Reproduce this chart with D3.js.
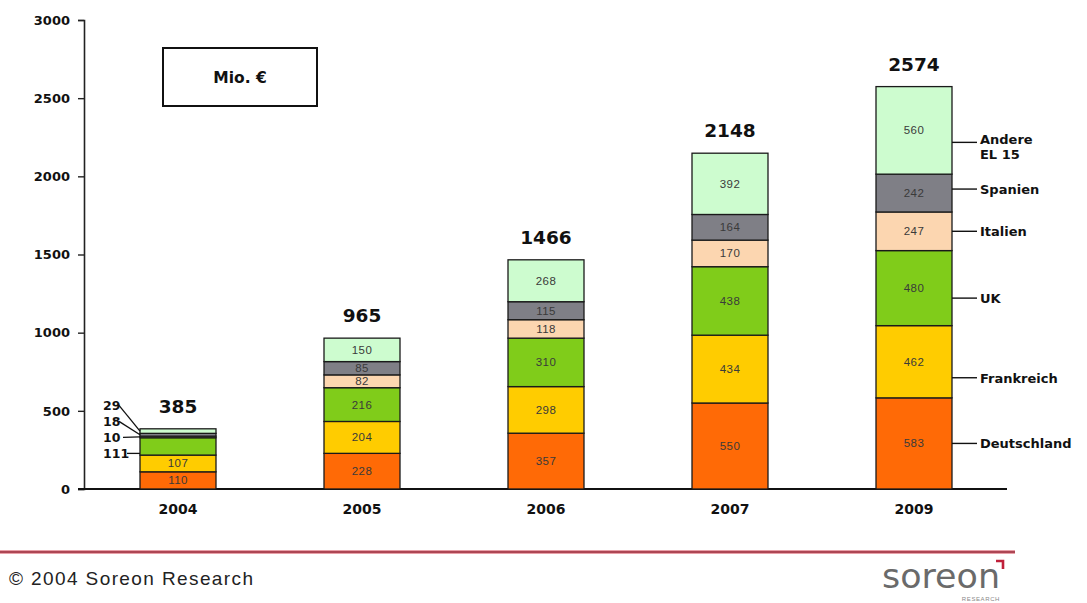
<!DOCTYPE html>
<html>
<head>
<meta charset="utf-8">
<script src="https://cdn.jsdelivr.net/npm/d3@7"></script>
<style>
  body { margin: 0; background: #fff; }
  svg { display: block; font-family: Arial, "Liberation Sans", sans-serif; }
  .bold { font-family: "DejaVu Sans", Verdana, sans-serif; font-weight: bold; fill: #111; }
</style>
</head>
<body>
<div id="main"></div>
<script>
const years = ['2004', '2005', '2006', '2007', '2009'];
const countries = ['Deutschland', 'Frankreich', 'UK', 'Italien', 'Spanien', 'Andere EL 15'];
const deutschland = [110, 228, 357, 550, 583];
const frankreich  = [107, 204, 298, 434, 462];
const uk          = [111, 216, 310, 438, 480];
const italien     = [10, 82, 118, 170, 247];
const spanien     = [18, 85, 115, 164, 242];
const andere      = [29, 150, 268, 392, 560];
const totals      = [385, 965, 1466, 2148, 2574];
const yTicks      = [0, 500, 1000, 1500, 2000, 2500, 3000];
const unitLabel   = 'Mio. €';
const footerText  = '© 2004 Soreon Research';

const colors = ['#ff6a06', '#ffcc00', '#80cc1a', '#fcd6b0', '#7f7f86', '#cdfccf'];

document.addEventListener('DOMContentLoaded', () => {
  const width = 1087, height = 603;
  const svg = d3.select('#main').append('svg')
    .attr('width', width).attr('height', height)
    .attr('viewBox', [0, 0, width, height]);

  const series = [deutschland, frankreich, uk, italien, spanien, andere];
  const rows = years.map((y, i) => {
    const r = { year: y };
    countries.forEach((c, k) => r[c] = series[k][i]);
    return r;
  });
  const stacked = d3.stack().keys(countries)(rows);

  const x = d3.scaleBand().domain(years).range([86, 1006])
    .paddingInner(0.587).paddingOuter(0.2935);
  const y = d3.scaleLinear().domain([0, 3000]).range([489, 20]);

  // y axis
  const gy = svg.append('g').attr('transform', 'translate(84,0)')
    .call(d3.axisLeft(y).tickValues(yTicks).tickFormat(d3.format('d')).tickSize(6).tickPadding(8));
  gy.select('.domain').attr('stroke', '#222').attr('stroke-width', 1.6);
  gy.selectAll('.tick line').attr('stroke', '#222').attr('stroke-width', 1.4);
  gy.selectAll('.tick text').attr('class', 'bold').attr('font-size', 13).attr('font-family', null);

  // x axis
  const gx = svg.append('g').attr('transform', 'translate(0,489)')
    .call(d3.axisBottom(x).tickSize(0).tickPadding(15));
  gx.select('.domain').attr('d', 'M78,0H1007').attr('stroke', '#111').attr('stroke-width', 2.2);
  gx.selectAll('.tick text').attr('class', 'bold').attr('font-size', 14).attr('font-family', null);

  // stacked bars
  const layer = svg.append('g').selectAll('g').data(stacked).join('g')
    .attr('fill', (d, i) => colors[i]);
  layer.selectAll('rect').data(d => d).join('rect')
    .attr('x', d => x(d.data.year))
    .attr('width', x.bandwidth())
    .attr('y', d => y(d[1]))
    .attr('height', d => y(d[0]) - y(d[1]))
    .attr('stroke', '#1a1a1a').attr('stroke-width', 1.3);

  // value labels inside segments (2004 small segments are labelled outside)
  stacked.forEach((s, k) => {
    const shown = s.filter((d, i) => y(d[0]) - y(d[1]) > 11 && !(i === 0 && k >= 2));
    svg.append('g').selectAll('text').data(shown).join('text')
      .attr('x', d => x(d.data.year) + x.bandwidth() / 2)
      .attr('y', d => (y(d[0]) + y(d[1])) / 2 + 4)
      .attr('text-anchor', 'middle')
      .attr('font-size', 11.5)
      .attr('letter-spacing', 0.4)
      .attr('fill', '#3a3a3a')
      .text(d => d.data[s.key]);
  });

  // totals above bars
  svg.append('g').selectAll('text').data(years).join('text')
    .attr('class', 'bold')
    .attr('x', d => x(d) + x.bandwidth() / 2)
    .attr('y', (d, i) => y(totals[i]) - 16)
    .attr('text-anchor', 'middle')
    .attr('font-size', 18.5)
    .text((d, i) => totals[i]);

  // 2004 callouts for small segments
  {
    const bx = x(years[0]);
    const seg = k => stacked[k][0];
    const mid = k => (y(seg(k)[0]) + y(seg(k)[1])) / 2;
    const baseY = mid(2) + 7;
    const items = [2, 3, 4, 5].map((k, j) => ({ k, ly: baseY - j * 16 }));
    const g = svg.append('g');
    g.selectAll('text').data(items).join('text')
      .attr('class', 'bold')
      .attr('x', 103).attr('y', d => d.ly + 5)
      .attr('font-size', 12.5)
      .text(d => series[d.k][0]);
    g.selectAll('line').data(items).join('line')
      .attr('x1', d => d.k === 2 ? 127 : d.k === 3 ? 123 : 119)
      .attr('y1', d => d.ly)
      .attr('x2', bx)
      .attr('y2', d => d.k === 2 ? d.ly : mid(d.k))
      .attr('stroke', '#111').attr('stroke-width', 1.3);
  }

  // legend on right side of last bar
  {
    const last = years.length - 1;
    const bx = x(years[last]) + x.bandwidth();
    const nudge = [0, 16, 10, 0, -4, 12];
    const items = stacked.map((s, k) => ({
      name: countries[k],
      my: (y(s[last][0]) + y(s[last][1])) / 2 + nudge[k]
    }));
    const g = svg.append('g');
    g.selectAll('line').data(items).join('line')
      .attr('x1', bx).attr('x2', bx + 25)
      .attr('y1', d => d.my).attr('y2', d => d.my)
      .attr('stroke', '#111').attr('stroke-width', 1.4);
    g.selectAll('text').data(items).join('text')
      .attr('class', 'bold')
      .attr('x', bx + 28).attr('y', d => d.my + 5)
      .attr('font-size', 13)
      .each(function (d) {
        const t = d3.select(this);
        if (d.name === 'Andere EL 15') {
          t.attr('y', d.my + 2);
          t.append('tspan').attr('x', bx + 28).text('Andere');
          t.append('tspan').attr('x', bx + 28).attr('dy', 15).text('EL 15');
        } else {
          t.text(d.name);
        }
      });
  }

  // unit box
  svg.append('rect').attr('x', 163).attr('y', 48).attr('width', 154).attr('height', 58)
    .attr('fill', '#fff').attr('stroke', '#111').attr('stroke-width', 2);
  svg.append('text').attr('class', 'bold').attr('x', 240).attr('y', 83).attr('text-anchor', 'middle')
    .attr('font-size', 15.5)
    .text(unitLabel);

  // footer
  svg.append('line').attr('x1', 0).attr('x2', 1015).attr('y1', 552).attr('y2', 552)
    .attr('stroke', '#e8a0a8').attr('stroke-width', 4);
  svg.append('line').attr('x1', 0).attr('x2', 1015).attr('y1', 552).attr('y2', 552)
    .attr('stroke', '#9a2838').attr('stroke-width', 1.6);
  svg.append('text').attr('x', 9).attr('y', 585)
    .attr('font-size', 19).attr('fill', '#222')
    .attr('textLength', 244).attr('lengthAdjust', 'spacing')
    .text(footerText);
  svg.append('text').attr('x', 1000).attr('y', 588).attr('text-anchor', 'end')
    .attr('font-family', '"DejaVu Sans", Verdana, sans-serif')
    .attr('font-size', 34).attr('fill', '#6a6a6a')
    .attr('textLength', 118).attr('lengthAdjust', 'spacingAndGlyphs')
    .text('soreon');
  svg.append('path').attr('d', 'M996,561 L1003,561 L1003,569')
    .attr('fill', 'none').attr('stroke', '#c0203a').attr('stroke-width', 2.6);
  svg.append('text').attr('x', 1000).attr('y', 601).attr('text-anchor', 'end')
    .attr('font-size', 6).attr('letter-spacing', 0.6).attr('fill', '#888').text('RESEARCH');
});
</script>
</body>
</html>
